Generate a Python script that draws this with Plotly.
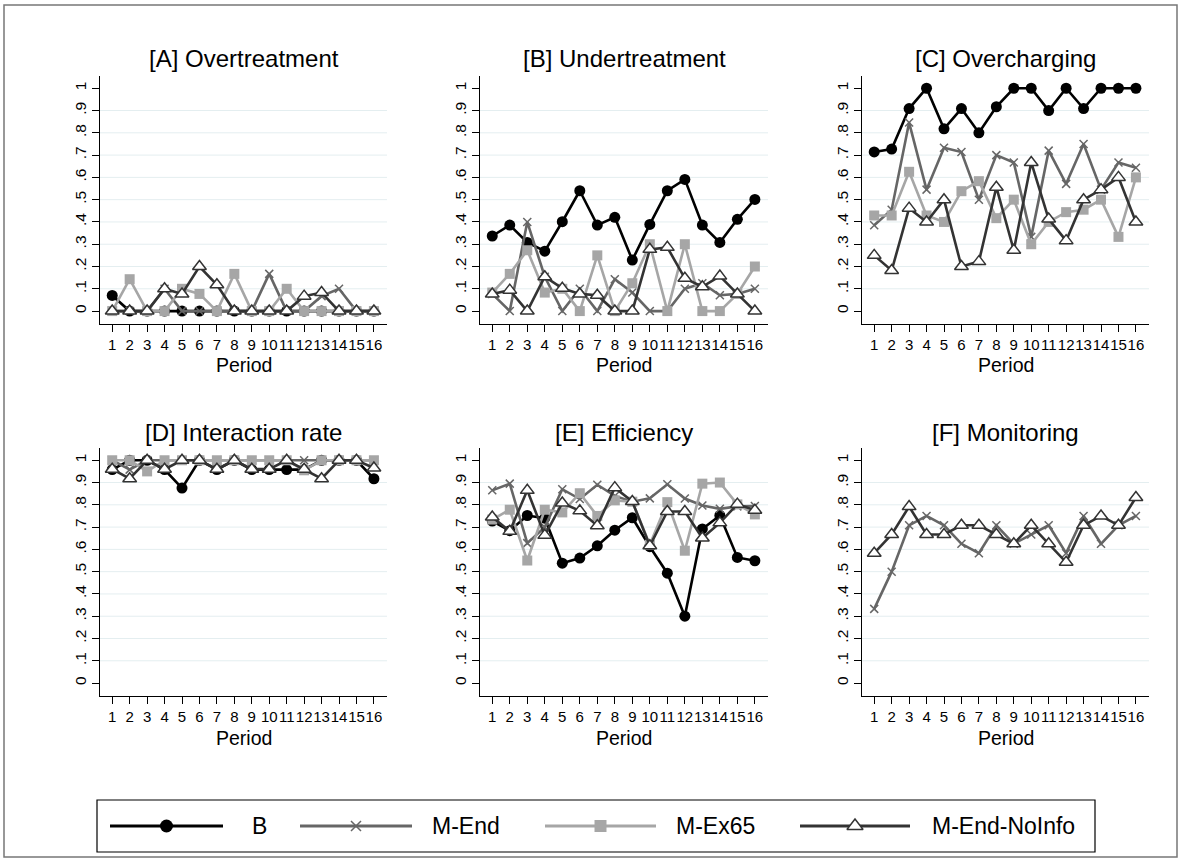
import plotly.graph_objects as go

W, H = 1181, 862
FONT = "Liberation Sans, Arial, sans-serif"

periods = list(range(1, 17))
series_names = ["B", "M-End", "M-Ex65", "M-End-NoInfo"]
panel_titles = ["[A] Overtreatment", "[B] Undertreatment", "[C] Overcharging",
                "[D] Interaction rate", "[E] Efficiency", "[F] Monitoring"]
ytick_vals = [0, 0.1, 0.2, 0.3, 0.4, 0.5, 0.6, 0.7, 0.8, 0.9, 1]
ytick_text = ["0", ".1", ".2", ".3", ".4", ".5", ".6", ".7", ".8", ".9", "1"]
grid_vals = [0.1, 0.2, 0.3, 0.4, 0.5, 0.6, 0.7, 0.8, 0.9]
xtick_text = [str(p) for p in periods]

# [A] Overtreatment
over_B = [0.07, 0, 0, 0, 0, 0, 0, 0, 0, 0, 0, 0, 0, 0, 0, 0]
over_MEnd = [0, 0, 0, 0.1, 0, 0, 0, 0, 0, 0.167, 0, 0, 0.067, 0.1, 0, 0]
over_MEx65 = [0, 0.143, 0, 0, 0.1, 0.077, 0, 0.167, 0, 0, 0.1, 0, 0, 0, 0, 0]
over_NoInfo = [0, 0, 0, 0.1, 0.077, 0.2, 0.118, 0, 0, 0, 0, 0.067, 0.083, 0, 0, 0]

# [B] Undertreatment
under_B = [0.337, 0.386, 0.308, 0.269, 0.401, 0.540, 0.386, 0.421, 0.229, 0.389, 0.540, 0.591, 0.386, 0.308, 0.412, 0.501]
under_MEnd = [0.077, 0, 0.4, 0.154, 0, 0.1, 0, 0.143, 0.083, 0, 0, 0.1, 0.125, 0.071, 0.077, 0.1]
under_MEx65 = [0.083, 0.167, 0.273, 0.083, 0.1, 0, 0.25, 0, 0.125, 0.3, 0, 0.3, 0, 0, 0.077, 0.2]
under_NoInfo = [0.077, 0.094, 0, 0.154, 0.102, 0.077, 0.071, 0, 0, 0.277, 0.286, 0.147, 0.109, 0.157, 0.077, 0]

# [C] Overcharging
charge_B = [0.714, 0.727, 0.909, 1, 0.818, 0.909, 0.8, 0.917, 1, 1, 0.9, 1, 0.909, 1, 1, 1]
charge_MEnd = [0.385, 0.455, 0.846, 0.545, 0.733, 0.714, 0.5, 0.7, 0.667, 0.333, 0.72, 0.571, 0.75, 0.545, 0.667, 0.643]
charge_MEx65 = [0.429, 0.429, 0.625, 0.429, 0.4, 0.538, 0.583, 0.417, 0.5, 0.3, 0.4, 0.444, 0.455, 0.5, 0.333, 0.6]
charge_NoInfo = [0.25, 0.182, 0.462, 0.4, 0.5, 0.2, 0.222, 0.556, 0.273, 0.667, 0.413, 0.316, 0.5, 0.545, 0.6, 0.4]

# [D] Interaction rate
inter_B = [0.958, 1, 1, 0.958, 0.875, 1, 0.958, 1, 0.958, 0.958, 0.958, 0.958, 1, 1, 1, 0.917]
inter_MEnd = [1, 0.958, 1, 1, 1, 1, 1, 1, 1, 1, 1, 1, 1, 1, 1, 1]
inter_MEx65 = [1, 1, 0.95, 1, 1, 1, 1, 1, 1, 1, 1, 0.955, 1, 1, 1, 1]
inter_NoInfo = [0.96, 0.917, 1, 0.96, 1, 1, 0.96, 1, 0.96, 0.96, 1, 0.96, 0.917, 1, 1, 0.965]

# [E] Efficiency
eff_B = [0.727, 0.684, 0.752, 0.74, 0.538, 0.561, 0.616, 0.686, 0.742, 0.612, 0.493, 0.3, 0.692, 0.752, 0.564, 0.549]
eff_MEnd = [0.865, 0.895, 0.628, 0.7, 0.87, 0.826, 0.89, 0.84, 0.814, 0.829, 0.892, 0.828, 0.797, 0.782, 0.793, 0.795]
eff_MEx65 = [0.734, 0.778, 0.55, 0.778, 0.766, 0.852, 0.75, 0.82, 0.814, 0.621, 0.812, 0.594, 0.895, 0.9, 0.802, 0.757]
eff_NoInfo = [0.745, 0.681, 0.865, 0.663, 0.808, 0.773, 0.706, 0.877, 0.815, 0.616, 0.77, 0.77, 0.651, 0.719, 0.803, 0.776]

# [F] Monitoring
mon_MEnd = [0.333, 0.5, 0.708, 0.75, 0.708, 0.625, 0.583, 0.708, 0.625, 0.667, 0.708, 0.583, 0.75, 0.625, 0.708, 0.75]
mon_NoInfo = [0.583, 0.667, 0.792, 0.667, 0.667, 0.708, 0.708, 0.667, 0.625, 0.708, 0.625, 0.542, 0.708, 0.75, 0.708, 0.833]

panels = [
    {"B": over_B, "M-End": over_MEnd, "M-Ex65": over_MEx65, "M-End-NoInfo": over_NoInfo},
    {"B": under_B, "M-End": under_MEnd, "M-Ex65": under_MEx65, "M-End-NoInfo": under_NoInfo},
    {"B": charge_B, "M-End": charge_MEnd, "M-Ex65": charge_MEx65, "M-End-NoInfo": charge_NoInfo},
    {"B": inter_B, "M-End": inter_MEnd, "M-Ex65": inter_MEx65, "M-End-NoInfo": inter_NoInfo},
    {"B": eff_B, "M-End": eff_MEnd, "M-Ex65": eff_MEx65, "M-End-NoInfo": eff_NoInfo},
    {"M-End": mon_MEnd, "M-End-NoInfo": mon_NoInfo},
]

styles = {
    "B": dict(line=dict(color="#000000", width=2.6),
              marker=dict(symbol="circle", size=11, color="#000000")),
    "M-End": dict(line=dict(color="#666666", width=2.6),
                  marker=dict(symbol="x-thin", size=8, color="#666666",
                              line=dict(color="#666666", width=1.5))),
    "M-Ex65": dict(line=dict(color="#a6a6a6", width=2.6),
                   marker=dict(symbol="square", size=10, color="#a6a6a6")),
    "M-End-NoInfo": dict(line=dict(color="#333333", width=2.6),
                         marker=dict(symbol="triangle-up", size=12, color="#ffffff",
                                     line=dict(color="#333333", width=1.5))),
}

# layout geometry in pixels
col_px = [(100, 387), (480, 768), (862, 1149)]
row_px = [(76, 324), (448, 696)]
title_y_px = [58, 432]
period_y_px = [365, 738]

def px_x(v):
    return v / W

def px_y(v):
    return 1 - v / H

fig = go.Figure()
layout = dict(
    width=W, height=H,
    margin=dict(l=0, r=0, t=0, b=0),
    paper_bgcolor="white", plot_bgcolor="rgba(0,0,0,0)",
    showlegend=False,
    font=dict(family=FONT, color="black"),
)
shapes = []
annotations = []

for i, data in enumerate(panels):
    r, c = divmod(i, 3)
    idx = i + 1
    xa = "x" if idx == 1 else f"x{idx}"
    ya = "y" if idx == 1 else f"y{idx}"
    x0, x1 = col_px[c]
    y0, y1 = row_px[r]
    layout[f"xaxis{idx}" if idx > 1 else "xaxis"] = dict(
        domain=[px_x(x0), px_x(x1)], anchor=ya, range=[0.3, 16.75],
        tickmode="array", tickvals=periods, ticktext=xtick_text, tickangle=0,
        ticks="outside", ticklen=7, tickcolor="black", tickwidth=1,
        showline=True, linecolor="black", linewidth=1.2, mirror=False,
        showgrid=False, zeroline=False,
        tickfont=dict(size=15, family=FONT, color="black"),
    )
    layout[f"yaxis{idx}" if idx > 1 else "yaxis"] = dict(
        domain=[px_y(y1), px_y(y0)], anchor=xa, range=[-0.058, 1.055],
        tickmode="array", tickvals=ytick_vals, ticktext=ytick_text,
        tickangle=-90,
        ticks="outside", ticklen=7, tickcolor="black", tickwidth=1,
        showline=True, linecolor="black", linewidth=1.2,
        showgrid=False, zeroline=False,
        tickfont=dict(size=15.5, family=FONT, color="black"),
    )
    for gv in grid_vals:
        shapes.append(dict(type="line", xref=f"{xa} domain", yref=ya,
                           x0=0, x1=1, y0=gv, y1=gv, layer="below",
                           line=dict(color="#e4eef0", width=1)))
    for name in series_names:
        if name not in data:
            continue
        st = styles[name]
        fig.add_trace(go.Scatter(
            x=periods, y=data[name], name=name, mode="lines+markers",
            line=st["line"], marker=st["marker"], xaxis=xa, yaxis=ya,
            cliponaxis=False, showlegend=False))
    annotations.append(dict(text=panel_titles[i], xref="paper", yref="paper",
                            x=px_x((x0 + x1) / 2), y=px_y(title_y_px[r]),
                            xanchor="center", yanchor="middle", showarrow=False,
                            font=dict(size=24, family=FONT, color="black")))
    annotations.append(dict(text="Period", xref="paper", yref="paper",
                            x=px_x((x0 + x1) / 2), y=px_y(period_y_px[r]),
                            xanchor="center", yanchor="middle", showarrow=False,
                            font=dict(size=19.5, family=FONT, color="black")))

# custom legend on an overlay pixel axis
layout["xaxis7"] = dict(domain=[0, 1], range=[0, W], visible=False, anchor="y7", fixedrange=True)
layout["yaxis7"] = dict(domain=[0, 1], range=[H, 0], visible=False, anchor="x7", fixedrange=True)
leg_box = (97, 800, 1095, 852)
leg_y = 826
leg_items = [  # (line start, line end, text x)
    (110, 223, 250),
    (300, 412, 430),
    (545, 656, 674),
    (800, 910, 930),
]
shapes.append(dict(type="rect", xref="paper", yref="paper",
                   x0=px_x(leg_box[0]), x1=px_x(leg_box[2]),
                   y0=px_y(leg_box[3]), y1=px_y(leg_box[1]),
                   line=dict(color="black", width=1.2), fillcolor="rgba(0,0,0,0)"))
for name, (lx0, lx1, tx) in zip(series_names, leg_items):
    st = styles[name]
    fig.add_trace(go.Scatter(x=[lx0, lx1], y=[leg_y, leg_y], mode="lines",
                             line=dict(color=st["line"]["color"], width=3),
                             xaxis="x7", yaxis="y7", showlegend=False, hoverinfo="skip"))
    mk = dict(st["marker"])
    mk["size"] = mk["size"] + 2
    fig.add_trace(go.Scatter(x=[(lx0 + lx1) / 2], y=[leg_y], mode="markers",
                             marker=mk, xaxis="x7", yaxis="y7",
                             showlegend=False, hoverinfo="skip"))
    annotations.append(dict(text=name, xref="paper", yref="paper",
                            x=px_x(tx), y=px_y(leg_y), xanchor="left", yanchor="middle",
                            showarrow=False, font=dict(size=23, family=FONT, color="black")))

# outer frame
shapes.append(dict(type="rect", xref="paper", yref="paper",
                   x0=px_x(4), x1=px_x(1177), y0=px_y(857), y1=px_y(5),
                   line=dict(color="#777777", width=1.5), fillcolor="rgba(0,0,0,0)"))

layout["shapes"] = shapes
layout["annotations"] = annotations
fig.update_layout(**layout)
fig.write_html("out.html", config={"displayModeBar": False},
               post_script="document.body.style.margin='0';document.body.style.overflow='hidden';")
